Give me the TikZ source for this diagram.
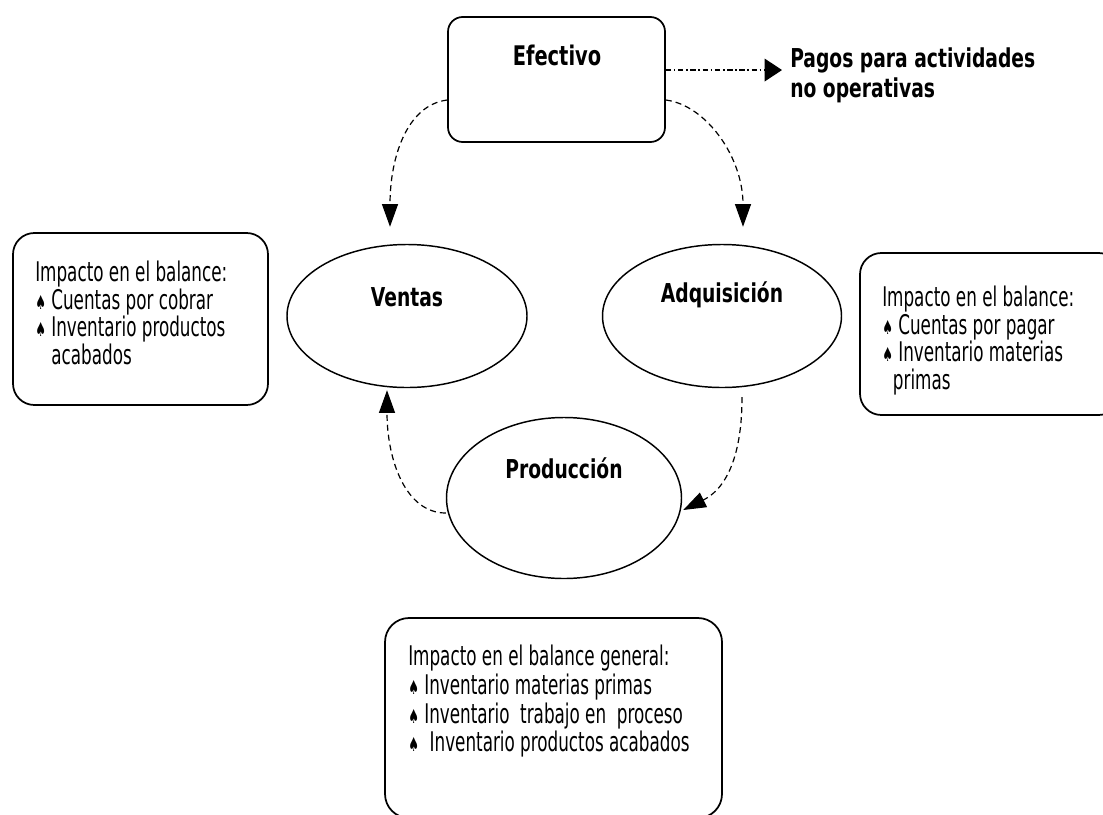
\documentclass[tikz,border=0pt]{standalone}
\usepackage{fontspec}
\usepackage{graphicx}
\setmainfont{DejaVu Sans Condensed}
\usetikzlibrary{shapes.geometric,arrows.meta}
\newcommand{\spd}{{\fontsize{10}{10}\selectfont ♠}}
\newcommand{\vs}[1]{\scalebox{1}[1.45]{#1}}
\newcommand{\vt}[1]{\scalebox{1}[1.25]{#1}}
\newcommand{\nolsk}{\lineskiplimit-30pt\relax}
\begin{document}
\begin{tikzpicture}[x=0.75pt,y=-0.75pt,
  roundbox/.style={draw, line width=1.3pt, inner sep=0pt},
  oval/.style={ellipse, draw, line width=1.1pt, inner sep=0pt},
  flow/.style={line width=0.9pt, dash pattern=on 4.5pt off 3pt, -{Triangle[length=17pt,width=12pt]}},
  dflow/.style={line width=0.9pt, dash pattern=on 4pt off 2pt on 1.2pt off 2pt, -{Triangle[length=13pt,width=17pt]}},
  title/.style={font=\bfseries\fontsize{15.6}{18}\selectfont, inner sep=0pt},
  bigtitle/.style={font=\bfseries\fontsize{15.6}{22.5}\selectfont\nolsk, inner sep=0pt, align=left, anchor=north west},
  body/.style={font=\fontsize{14}{20.6}\selectfont\nolsk, inner sep=0pt, align=left, anchor=north west},
  bodywide/.style={font=\fontsize{14}{21.5}\selectfont\nolsk, inner sep=0pt, align=left, anchor=north west}]
\clip (0,0) rectangle (1103,814);
\fill[white] (0,0) rectangle (1103,814);

% Efectivo
\node[roundbox, rounded corners=11pt, minimum width=162.75pt, minimum height=93.75pt] (eff) at (556.5,79.5) {};
\node[title, font=\bfseries\fontsize{16.2}{18}\selectfont] (efft) at (557,55) {\vt{Efectivo}};
\node[bigtitle] (pagos) at (790,47) {\vt{Pagos para actividades}\\\vt{no operativas}};

% ellipses
\node[oval, minimum width=180pt, minimum height=107.25pt] (ven) at (407,316) {};
\node[title] (vent) at (407,297) {\vt{Ventas}};
\node[oval, minimum width=179.25pt, minimum height=107.25pt] (adq) at (722,316) {};
\node[title] (adqt) at (722,295) {\vt{Adquisición}};
\node[oval, minimum width=176.25pt, minimum height=120.75pt] (prod) at (564,498) {};
\node[title] (prodt) at (564,468) {\vt{Producción}};

% info boxes
\node[roundbox, rounded corners=16pt, minimum width=191.25pt, minimum height=129pt] (lb) at (140.5,319) {};
\node[body] (lbt) at (35,261) {\vs{Impacto en el balance:}\\\vs{\spd{} Cuentas por cobrar}\\\vs{\spd{} Inventario productos}\\\vs{\phantom{\spd{} }acabados}};
\node[roundbox, rounded corners=16pt, minimum width=195pt, minimum height=121.5pt] (rb) at (990,334) {};
\node[body] (rbt) at (882,286) {\vs{Impacto en el balance:}\\\vs{\spd{} Cuentas por pagar}\\\vs{\spd{} Inventario materias}\\\vs{\hspace{8pt}primas}};
\node[roundbox, rounded corners=18pt, minimum width=252.75pt, minimum height=150pt] (bb) at (553.5,718) {};
\node[bodywide] (bbt) at (408,645) {\vs{Impacto en el balance general:}\\\vs{\spd{} Inventario materias primas}\\\vs{\spd{} Inventario \ trabajo en \ proceso}\\\vs{\spd{} \ Inventario productos acabados}};

% connectors
\coordinate (dstart) at ([yshift=7.1pt]eff.east);
\draw[dflow, shorten >=6pt] (dstart) -- (pagos.west |- dstart);
\draw[flow] ([yshift=-15.4pt]eff.west) .. controls +(-40,5) and +(0,-70) .. ([xshift=-12.75pt,yshift=12.75pt]ven.north);
\draw[flow] ([yshift=-15.4pt]eff.east) .. controls +(40,5) and +(0,-70) .. ([xshift=15.75pt,yshift=12.75pt]adq.north);
\draw[flow] ([xshift=15pt,yshift=-6.75pt]adq.south) .. controls +(0,80) and +(30,-15) .. ([xshift=0.75pt,yshift=-9pt]prod.east);
\draw[flow] ([yshift=-11.25pt]prod.west) .. controls +(-40,0) and +(0,70) .. ([xshift=-15pt,yshift=-1.5pt]ven.south);
\end{tikzpicture}
\end{document}
